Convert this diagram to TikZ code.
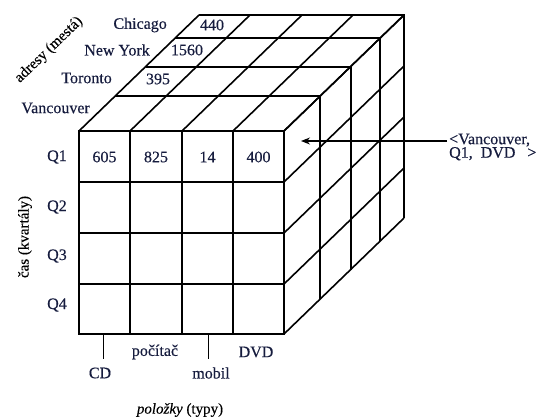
\documentclass[tikz,border=0pt]{standalone}
\usepackage{fontspec}
\setmainfont{Liberation Serif}[
  BoldFont={Liberation Serif}, BoldFeatures={FakeBold=0.35},
  BoldItalicFont={Liberation Serif Italic}, BoldItalicFeatures={FakeBold=0.35}]
\usetikzlibrary{arrows.meta}
\definecolor{ink}{RGB}{22,28,62}
\begin{document}
\begin{tikzpicture}[x=1pt,y=-1pt,
  lbl/.style={font=\fontsize{16}{17}\selectfont\bfseries, text=ink, inner sep=0pt},
  axis/.style={font=\fontsize{15}{17}\selectfont\bfseries, text=black, inner sep=0pt},
  gridthin/.style={line width=1.4pt},
  edge/.style={line width=2pt},
  diag/.style={line width=1.6pt},
  frame/.style={line width=2.6pt},
  tick/.style={line width=0.9pt},
]
\useasboundingbox (0,0) rectangle (541,418);

% front face: 4 x 4 cells (items x quarters)
\foreach \x in {130,182,233} \draw[gridthin] (\x,131) -- (\x,334);
\foreach \y in {182,233,284} \draw[gridthin] (79,\y) -- (284,\y);

% top face and right face receding lines
\foreach \x in {79,130,182,233,284} \draw[diag] (\x,131) -- ++(120,-116);
\foreach \y in {131,182,233,284,334} \draw[diag] (284,\y) -- ++(120,-116);

% slice edges (one slice per city)
\foreach \dx/\dy in {36/35,67/64,96/93,120/116}
  \draw[edge, line join=miter] (79+\dx,131-\dy) -- (284+\dx,131-\dy) -- (284+\dx,334-\dy);

\draw[frame] (79,131) rectangle (284,334);

% cell values
\node[lbl] (v605) at (104.5,157) {605};
\node[lbl] (v825) at (156,157) {825};
\node[lbl] (v14)  at (207.5,157) {14};
\node[lbl] (v400) at (258.5,157) {400};
\node[lbl] (v440) at (212,25) {440};
\node[lbl] (v1560) at (187,50) {1560};
\node[lbl] (v395) at (158,79) {395};

% cities
\node[lbl, anchor=east] (chicago) at (167,25) {Chicago};
\node[lbl, anchor=east] (newyork) at (150,50) {New York};
\node[lbl, anchor=east] (toronto) at (112,78) {Toronto};
\node[lbl, anchor=east] (vancouver) at (90,108) {Vancouver};

% quarters
\node[lbl] (q1) at (57,157) {Q1};
\node[lbl] (q2) at (57,207) {Q2};
\node[lbl] (q3) at (57,256) {Q3};
\node[lbl] (q4) at (57,305) {Q4};

% items
\coordinate (t1top) at (103,334);
\coordinate (t1bot) at (103,359);
\coordinate (t2top) at (208,334);
\coordinate (t2bot) at (208,359);
\draw[tick] (t1top) -- (t1bot);
\draw[tick] (t2top) -- (t2bot);
\node[lbl] (cd) at (100,373) {CD};
\node[lbl] (pc) at (155,352) {počítač};
\node[lbl] (mob) at (211,373) {mobil};
\node[lbl] (dvd) at (256,352) {DVD};

% dimension titles
\node[axis] (items) at (180,410) {\textit{položky} (typy)};
\node[axis, rotate=90] (time) at (25,237) {čas (kvartály)};
\node[axis, rotate=44] (addr) at (49,50) {adresy (mestá)};

% pointer to one cell
\node[lbl, anchor=west, align=left, font=\fontsize{16}{13.5}\selectfont\bfseries] (cell) at (449,147)
  {<Vancouver,\\Q1,\ \ DVD\ \ \ >};
\coordinate (tip) at (301,141);
\draw[line width=1.2pt, -{Stealth[length=9pt,width=7pt]}] (cell.west |- tip) ++(-2,0) -- (tip);
\end{tikzpicture}
\end{document}
